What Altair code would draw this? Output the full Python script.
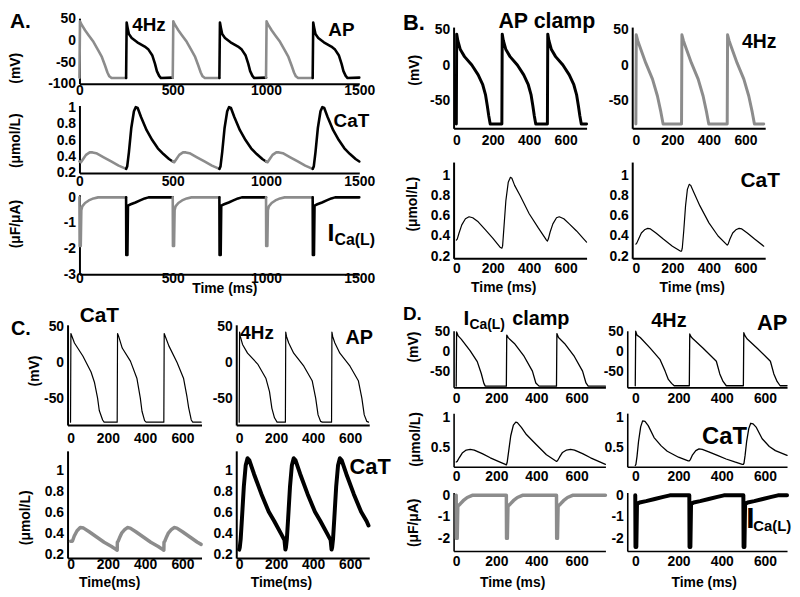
import altair as alt
import pandas as pd

FONT = "Liberation Sans"
GRAY = "#8c8c8c"
BLACK = "#000000"

# ================= A. 4 Hz pacing: gray = short/small beat, black = long/large beat =================
A_starts = [0, 250, 500, 750, 1000, 1250]
A_kind = ["short", "long", "short", "long", "short", "long"]
A_colors = [GRAY, BLACK, GRAY, BLACK, GRAY, BLACK]

A_AP_short_t = [0, 3, 10, 30, 50, 75, 100, 120, 137, 150, 160, 172, 250]
A_AP_short_v = [-86, 45, 38, 24, 12, -3, -22, -38, -58, -74, -83, -87, -87]
A_AP_long_t = [0, 3, 8, 15, 30, 60, 100, 120, 140, 155, 165, 177, 187, 250]
A_AP_long_v = [-87, 42, 30, 15, 6, -4, -14, -21, -34, -54, -71, -82, -87, -86]

A_CaT_short_t = [0, 8, 20, 35, 55, 70, 90, 130, 170, 210, 250]
A_CaT_short_v = [0.34, 0.33, 0.37, 0.42, 0.45, 0.45, 0.44, 0.39, 0.34, 0.29, 0.25]
A_CaT_long_t = [0, 6, 15, 28, 42, 52, 62, 80, 110, 140, 170, 200, 230, 250]
A_CaT_long_v = [0.25, 0.28, 0.45, 0.75, 0.95, 1.0, 0.99, 0.88, 0.72, 0.6, 0.5, 0.43, 0.37, 0.34]

A_ICa_short_t = [0, 1, 7, 10, 15, 30, 50, 75, 100, 250]
A_ICa_short_v = [0, -1.9, -1.9, -0.5, -0.35, -0.22, -0.12, -0.04, 0, 0]
A_ICa_long_t = [0, 1, 7, 10, 25, 50, 75, 100, 120, 250]
A_ICa_long_v = [0, -2.25, -2.25, -0.32, -0.27, -0.2, -0.12, -0.04, 0, 0]

# ================= B. AP clamp (left) vs 4 Hz (right) =================
B_starts = [0, 250, 500]
B_APclamp_t = [0, 2, 8, 22, 45, 85, 120, 145, 160, 170, 178, 186, 250]
B_APclamp_v = [-84, 44, 35, 22, 12, 0, -14, -28, -42, -58, -72, -84, -84]
B_APclamp_last_t = [0, 2, 8, 22, 45, 85, 120, 145, 160, 170, 178, 186, 215]
B_AP4_t = [0, 2, 10, 18, 54, 91, 118, 137, 149, 250]
B_AP4_v = [-84, 43, 35, 29, 3, -20, -44, -67, -84, -84]
B_AP4_last_t = [0, 2, 10, 18, 54, 91, 118, 137, 149, 200]

B_CaTc_1_t = [0, 5, 15, 30, 50, 70, 90, 120, 160, 200, 240, 250]
B_CaTc_1_v = [0.36, 0.37, 0.43, 0.51, 0.57, 0.59, 0.58, 0.54, 0.46, 0.38, 0.29, 0.28]
B_CaTc_2_t = [0, 4, 12, 22, 35, 47, 55, 70, 100, 150, 200, 245, 250]
B_CaTc_2_v = [0.28, 0.3, 0.5, 0.75, 0.93, 0.98, 0.97, 0.9, 0.8, 0.62, 0.48, 0.36, 0.35]
B_CaTc_3_t = [0, 5, 15, 30, 50, 65, 90, 120, 160, 200, 215]
B_CaTc_3_v = [0.35, 0.37, 0.44, 0.52, 0.58, 0.59, 0.57, 0.52, 0.45, 0.37, 0.34]

B_CaT4_1_t = [0, 5, 15, 30, 50, 65, 80, 110, 150, 200, 245, 250]
B_CaT4_1_v = [0.32, 0.33, 0.37, 0.43, 0.465, 0.475, 0.47, 0.43, 0.37, 0.3, 0.25, 0.25]
B_CaT4_2_t = [0, 4, 12, 22, 32, 42, 50, 65, 100, 150, 200, 250]
B_CaT4_2_v = [0.25, 0.28, 0.45, 0.7, 0.86, 0.91, 0.9, 0.84, 0.7, 0.53, 0.4, 0.31]
B_CaT4_3_t = [0, 5, 15, 30, 50, 65, 80, 110, 150, 200]
B_CaT4_3_v = [0.31, 0.32, 0.37, 0.43, 0.465, 0.475, 0.47, 0.43, 0.37, 0.3]

# ================= C. CaT clamp (left) vs 4 Hz (right) =================
C_starts = [0, 250, 500]
C_APc_1_t = [0, 2, 8, 21, 66, 110, 128, 145, 154, 172, 180, 250]
C_APc_1_v = [-82, 40, 36, 27, 9, -13, -27, -49, -66, -79, -82, -82]
C_APc_2_t = [0, 2, 8, 27, 71, 106, 124, 133, 147, 155, 250]
C_APc_2_v = [-82, 40, 36, 20, 2, -22, -49, -67, -80, -82, -82]
C_APc_3_t = [0, 2, 8, 27, 71, 106, 124, 133, 147, 155, 200]
C_APc_3_v = [-82, 40, 36, 23, 0, -22, -47, -62, -79, -82, -82]

C_AP4_1_t = [0, 2, 6, 18, 45, 100, 145, 164, 177, 191, 205, 250]
C_AP4_1_v = [-82, 42, 36, 25, 13, -2, -22, -40, -63, -76, -82, -82]
C_AP4_2_t = [0, 2, 6, 18, 45, 100, 145, 164, 177, 191, 200, 250]
C_AP4_2_v = [-82, 42, 36, 27, 13, -5, -25, -49, -72, -81, -82, -82]
C_AP4_3_t = [0, 2, 6, 18, 45, 100, 145, 164, 177, 191, 200]
C_AP4_3_v = [-82, 42, 36, 27, 13, -5, -25, -49, -72, -81, -82]

C_CaTc_1_t = [0, 10, 20, 35, 52, 70, 100, 140, 180, 220, 245, 250]
C_CaTc_1_v = [0.33, 0.33, 0.38, 0.43, 0.46, 0.455, 0.42, 0.37, 0.32, 0.28, 0.25, 0.245]
C_CaTc_2_t = [0, 1, 5, 12, 25, 40, 55, 70, 100, 140, 180, 220, 245, 250]
C_CaTc_2_v = [0.245, 0.32, 0.33, 0.36, 0.41, 0.44, 0.46, 0.455, 0.42, 0.37, 0.32, 0.28, 0.25, 0.245]
C_CaTc_3_t = [0, 1, 5, 12, 25, 40, 55, 70, 100, 140, 180, 200]
C_CaTc_3_v = [0.245, 0.32, 0.33, 0.36, 0.41, 0.44, 0.46, 0.455, 0.42, 0.37, 0.32, 0.3]

C_CaT4_t = [0, 3, 8, 15, 25, 35, 45, 55, 80, 120, 160, 190, 227, 245, 250]
C_CaT4_v = [0.25, 0.27, 0.35, 0.55, 0.85, 1.05, 1.12, 1.1, 0.97, 0.78, 0.61, 0.52, 0.4, 0.34, 0.25]
C_CaT4_3_t = [0, 3, 8, 15, 25, 35, 45, 55, 80, 120, 160, 190, 200]
C_CaT4_3_v = [0.25, 0.27, 0.35, 0.55, 0.85, 1.05, 1.12, 1.1, 0.97, 0.78, 0.61, 0.52, 0.48]

# ================= D. I_Ca(L) clamp (left) vs 4 Hz (right) =================
D_starts = [0, 250, 500]
D_APc_1_t = [0, 2, 10, 25, 70, 105, 125, 138, 145, 250]
D_APc_1_v = [-87, 50, 40, 32, 2, -25, -55, -80, -87, -87]
D_APc_2_t = [0, 2, 10, 40, 89, 130, 147, 163, 250]
D_APc_2_v = [-87, 42, 35, 21, -12, -49, -79, -87, -87]
D_APc_3_t = [0, 2, 10, 40, 89, 130, 147, 158, 244]
D_APc_3_v = [-87, 46, 36, 21, -12, -49, -79, -87, -87]

D_AP4_1_t = [0, 2, 8, 23, 69, 115, 138, 153, 168, 180, 250]
D_AP4_1_v = [-86, 52, 42, 36, 9, -20, -49, -70, -80, -86, -86]
D_AP4_2_t = [0, 2, 8, 18, 64, 125, 141, 156, 171, 250]
D_AP4_2_v = [-86, 45, 38, 32, 9, -24, -56, -75, -86, -86]
D_AP4_3_t = [0, 2, 8, 18, 64, 125, 141, 156, 170, 202]
D_AP4_3_v = [-86, 48, 40, 32, 9, -24, -56, -75, -86, -86]

D_CaTc_1_t = [0, 5, 15, 30, 50, 70, 90, 130, 170, 210, 245, 250]
D_CaTc_1_v = [0.26, 0.27, 0.33, 0.41, 0.46, 0.47, 0.46, 0.4, 0.33, 0.27, 0.22, 0.21]
D_CaTc_2_t = [0, 4, 12, 22, 35, 47, 55, 75, 100, 150, 200, 245, 250]
D_CaTc_2_v = [0.21, 0.25, 0.45, 0.7, 0.88, 0.93, 0.92, 0.84, 0.72, 0.55, 0.38, 0.28, 0.27]
D_CaTc_3_t = [0, 5, 15, 30, 50, 70, 90, 130, 170, 210, 244]
D_CaTc_3_v = [0.27, 0.28, 0.34, 0.42, 0.46, 0.47, 0.46, 0.4, 0.33, 0.27, 0.22]

D_CaT4_1_t = [0, 3, 8, 15, 25, 34, 45, 60, 87, 120, 148, 200, 245, 250]
D_CaT4_1_v = [0.2, 0.22, 0.35, 0.6, 0.85, 0.95, 0.94, 0.87, 0.67, 0.53, 0.44, 0.34, 0.28, 0.28]
D_CaT4_2_t = [0, 5, 15, 30, 45, 60, 90, 130, 170, 210, 245, 250]
D_CaT4_2_v = [0.28, 0.3, 0.38, 0.45, 0.48, 0.47, 0.43, 0.37, 0.31, 0.26, 0.22, 0.22]
D_CaT4_3_t = [0, 3, 8, 15, 25, 34, 45, 60, 87, 120, 148, 202]
D_CaT4_3_v = [0.22, 0.24, 0.37, 0.6, 0.82, 0.91, 0.9, 0.84, 0.65, 0.52, 0.45, 0.37]

D_ICac_t = [0, 1, 5, 8, 20, 35, 55, 80, 250]
D_ICac_v = [0, -2.0, -2.0, -0.5, -0.4, -0.25, -0.1, 0, 0]
D_ICac_last_t = [0, 1, 5, 8, 20, 35, 55, 80, 244]
D_ICa4_t = [0, 1, 5, 8, 20, 50, 90, 130, 160, 250]
D_ICa4_v = [0, -2.4, -2.4, -0.4, -0.33, -0.27, -0.17, -0.07, 0, 0]
D_ICa4_last_t = [0, 1, 5, 8, 20, 50, 90, 130, 160, 202]


# ---------------------------------------------------------------------------
def trace(beats, colors=None):
    rows = []
    for k, (start, ts, vs) in enumerate(beats):
        col = colors[k] if colors else BLACK
        for dt, v in zip(ts, vs):
            rows.append({"t": start + dt, "v": v, "seg": k, "c": col, "i": len(rows)})
    return pd.DataFrame(rows)


def txt(s, x, y, size, align="left"):
    return alt.Chart(pd.DataFrame({"k": [0]})).mark_text(
        text=s, font=FONT, fontWeight="bold", fontSize=size, align=align,
        baseline="alphabetic", color="black"
    ).encode(x=alt.value(x), y=alt.value(y))


def panel(df, w, h, xdom, ydom, xvals, yvals, sw, color=BLACK, split=False,
          xr=None, yr=None, yoff=0, ytitle=None, yt=(0, 0), xtitle=None, xt=(0, 0),
          xlp=0, dw=2, texts=()):
    xs = dict(domain=xdom, nice=False, zero=False)
    if xr:
        xs["range"] = xr
    ys = dict(domain=ydom, nice=False, zero=False)
    if yr:
        ys["range"] = yr
    xax = dict(values=xvals, labelPadding=xlp, domainWidth=dw, labelExpr="'' + datum.value")
    if xtitle:
        xax.update(titleX=xt[0], titleY=xt[1], titleAlign="center", titleBaseline="middle")
    yax = dict(values=yvals, labelPadding=4, offset=yoff, domainWidth=dw,
               labelExpr="'' + datum.value")
    if ytitle:
        yax.update(titleX=yt[0], titleY=yt[1], titleAngle=270, titleAlign="center",
                   titleBaseline="middle")
    X = alt.X("t:Q", scale=alt.Scale(**xs), axis=alt.Axis(**xax),
              title=xtitle if xtitle else None)
    Y = alt.Y("v:Q", scale=alt.Scale(**ys), axis=alt.Axis(**yax),
              title=ytitle if ytitle else None)
    df = df.assign(c=df["c"] if split else color)
    enc = dict(x=X, y=Y, order=alt.Order("i:Q"), color=alt.Color("c:N", scale=None))
    if split:
        enc["detail"] = alt.Detail("seg:N")
    line = alt.Chart(df).mark_line(strokeWidth=sw, strokeCap="round",
                                   strokeJoin="round").encode(**enc)
    return alt.layer(line, *texts).properties(width=w, height=h)


# ---------------- Panel A ----------------
A_AP = {"short": (A_AP_short_t, A_AP_short_v), "long": (A_AP_long_t, A_AP_long_v)}
A_CaT = {"short": (A_CaT_short_t, A_CaT_short_v), "long": (A_CaT_long_t, A_CaT_long_v)}
A_ICa = {"short": (A_ICa_short_t, A_ICa_short_v), "long": (A_ICa_long_t, A_ICa_long_v)}

dA1 = trace([(s,) + A_AP[k] for s, k in zip(A_starts, A_kind)], A_colors)
dA2 = trace([(s,) + A_CaT[k] for s, k in zip(A_starts, A_kind)], A_colors)
dA3 = trace([(s,) + A_ICa[k] for s, k in zip(A_starts, A_kind)], A_colors)

A_x = dict(xdom=[0, 1500], xvals=[0, 500, 1000, 1500], xr=[12, 294], yoff=-12)
A1 = panel(dA1, 294, 66, ydom=[-100, 52], yvals=[-100, -50, 0, 50], sw=2.6, split=True,
           ytitle="(mV)", yt=(-64, 50), xlp=0,
           texts=[txt("A.", -58, 10, 21), txt("4Hz", 82, 13, 19, "center"),
                  txt("AP", 276, 18, 19, "center")], **A_x)
A2 = panel(dA2, 294, 68, ydom=[0.2, 1.02], yvals=[0.2, 0.4, 0.6, 0.8, 1], sw=2.6, split=True,
           ytitle="(\u03bcmol/L)", yt=(-64, 35), xlp=2,
           texts=[txt("CaT", 286, 22, 19, "center")], **A_x)
A3 = panel(dA3, 294, 80, ydom=[-3, 0.1], yvals=[-3, -2, -1, 0], sw=2.6, split=True,
           ytitle="(\u03bcF/\u03bcA)", yt=(-64, 29), xtitle="Time (ms)", xt=(158, 14), xlp=-3,
           texts=[txt("I", 262, 47, 25), txt("Ca(L)", 269, 51, 16)], **A_x)
A = alt.vconcat(A1, A2, A3, spacing=22, bounds="flush")

# ---------------- Panel B ----------------
dB1 = trace([(0, B_APclamp_t, B_APclamp_v), (250, B_APclamp_t, B_APclamp_v),
             (500, B_APclamp_last_t, B_APclamp_v)])
dB3 = trace([(0, B_AP4_t, B_AP4_v), (250, B_AP4_t, B_AP4_v), (500, B_AP4_last_t, B_AP4_v)])
dB2 = trace([(0, B_CaTc_1_t, B_CaTc_1_v), (250, B_CaTc_2_t, B_CaTc_2_v),
             (500, B_CaTc_3_t, B_CaTc_3_v)])
dB4 = trace([(0, B_CaT4_1_t, B_CaT4_1_v), (250, B_CaT4_2_t, B_CaT4_2_v),
             (500, B_CaT4_3_t, B_CaT4_3_v)])

Bl = dict(xdom=[-15, 715], xvals=[0, 200, 400, 600])
Br = dict(xdom=[-20, 708], xvals=[0, 200, 400, 600])
B_ap = dict(ydom=[-90, 54], yvals=[-50, 0, 50], yr=[111, 9], xlp=5)
B_ca = dict(ydom=[0.18, 1.13], yvals=[0.2, 0.4, 0.6, 0.8, 1], xlp=3)
B1 = panel(dB1, 134, 111, sw=3, ytitle="(mV)", yt=(-39, 52),
           texts=[txt("B.", -51, 12, 22), txt("AP clamp", 94, 10, 21.5, "center")], **Bl, **B_ap)
B3 = panel(dB3, 134, 111, sw=3, color=GRAY,
           texts=[txt("4Hz", 128, 30, 19.5, "center")], **Br, **B_ap)
B2 = panel(dB2, 134, 97, sw=1.2, ytitle="(\u03bcmol/L)", yt=(-41, 42),
           xtitle="Time (ms)", xt=(50, 29), **Bl, **B_ca)
B4 = panel(dB4, 134, 97, sw=1.2, xtitle="Time (ms)", xt=(60, 29),
           texts=[txt("CaT", 129, 25, 21, "center")], **Br, **B_ca)
B = alt.concat(B1, B3, B2, B4, columns=2, spacing={"row": 34, "column": 46},
               bounds="flush", align="each")

# ---------------- Panel C ----------------
dC1 = trace([(0, C_APc_1_t, C_APc_1_v), (250, C_APc_2_t, C_APc_2_v), (500, C_APc_3_t, C_APc_3_v)])
dC3 = trace([(0, C_AP4_1_t, C_AP4_1_v), (250, C_AP4_2_t, C_AP4_2_v), (500, C_AP4_3_t, C_AP4_3_v)])
dC2 = trace([(0, C_CaTc_1_t, C_CaTc_1_v), (250, C_CaTc_2_t, C_CaTc_2_v),
             (500, C_CaTc_3_t, C_CaTc_3_v)])
dC4 = trace([(0, C_CaT4_t, C_CaT4_v), (250, C_CaT4_t, C_CaT4_v), (500, C_CaT4_3_t, C_CaT4_3_v)])

Cl = dict(xdom=[-16, 702], xvals=[0, 200, 400, 600])
Cr = dict(xdom=[-16, 704], xvals=[0, 200, 400, 600])
C_ap = dict(ydom=[-86, 52], yvals=[-50, 0, 50], xlp=7)
C_ca = dict(ydom=[0.17, 1.19], yvals=[0.2, 0.4, 0.6, 0.8, 1], xlp=0)
C1 = panel(dC1, 135, 101, sw=1.2, ytitle="(mV)", yt=(-33, 46),
           texts=[txt("C.", -57, 10, 20), txt("CaT", 32, -3, 21, "center")], **Cl, **C_ap)
C3 = panel(dC3, 134, 101, sw=1.2,
           texts=[txt("4Hz", 21, 14, 19, "center"), txt("AP", 124, 19, 20, "center")], **Cr, **C_ap)
C2 = panel(dC2, 135, 108, sw=3.5, color=GRAY, ytitle="(\u03bcmol/L)", yt=(-42, 67),
           xtitle="Time(ms)", xt=(42, 25), **Cl, **C_ca)
C4 = panel(dC4, 134, 108, sw=4, xtitle="Time(ms)", xt=(45, 25),
           texts=[txt("CaT", 135, 23, 22, "center")], **Cr, **C_ca)
C = alt.concat(C1, C3, C2, C4, columns=2, spacing={"row": 26, "column": 35},
               bounds="flush", align="each")

# ---------------- Panel D ----------------
dD1 = trace([(0, D_APc_1_t, D_APc_1_v), (250, D_APc_2_t, D_APc_2_v), (500, D_APc_3_t, D_APc_3_v)])
dD4 = trace([(0, D_AP4_1_t, D_AP4_1_v), (250, D_AP4_2_t, D_AP4_2_v), (500, D_AP4_3_t, D_AP4_3_v)])
dD2 = trace([(0, D_CaTc_1_t, D_CaTc_1_v), (250, D_CaTc_2_t, D_CaTc_2_v),
             (500, D_CaTc_3_t, D_CaTc_3_v)])
dD5 = trace([(0, D_CaT4_1_t, D_CaT4_1_v), (250, D_CaT4_2_t, D_CaT4_2_v),
             (500, D_CaT4_3_t, D_CaT4_3_v)])
dD3 = trace([(0, D_ICac_t, D_ICac_v), (250, D_ICac_t, D_ICac_v), (500, D_ICac_last_t, D_ICac_v)])
dD6 = trace([(0, D_ICa4_t, D_ICa4_v), (250, D_ICa4_t, D_ICa4_v), (500, D_ICa4_last_t, D_ICa4_v)])

Dl = dict(xdom=[-13, 744], xvals=[0, 200, 400, 600], dw=1.6)
Dr = dict(xdom=[-37, 702], xvals=[0, 200, 400, 600], dw=1.6)
D_ap = dict(ydom=[-90, 53], yvals=[-50, 0, 50], xlp=4)
D_ca = dict(ydom=[0.18, 1.08], yvals=[0.5, 1], xlp=3)
D_ic = dict(ydom=[-2.59, 0.13], yvals=[-2, -1, 0], xlp=4)
D1 = panel(dD1, 153, 57, sw=1.3, ytitle="(mV)", yt=(-40, 16),
           texts=[txt("D.", -51, -11, 19), txt("I", 10, -6, 21), txt("Ca(L)", 16, -2, 14),
                  txt("clamp", 59, -6, 20)], **Dl, **D_ap)
D4 = panel(dD4, 161, 57, sw=1.3,
           texts=[txt("4Hz", 42, -4, 20, "center"), txt("AP", 146, -1, 22, "center")], **Dr, **D_ap)
D2 = panel(dD2, 153, 54, sw=1.3, ytitle="(\u03bcmol/L)", yt=(-38, 26), **Dl, **D_ca)
D5 = panel(dD5, 161, 54, sw=1.3, texts=[txt("CaT", 98, 31, 24, "center")], **Dr, **D_ca)
D3 = panel(dD3, 153, 59, sw=3.5, color=GRAY, ytitle="(\u03bcF/\u03bcA)", yt=(-40, 30),
           xtitle="Time (ms)", xt=(59, 32), **Dl, **D_ic)
D6 = panel(dD6, 161, 59, sw=4, xtitle="Time (ms)", xt=(77, 32),
           texts=[txt("I", 120, 36, 30), txt("Ca(L)", 127, 39, 15)], **Dr, **D_ic)
D = alt.concat(D1, D4, D2, D5, D3, D6, columns=2, spacing={"row": 26, "column": 22},
               bounds="flush", align="each")

# ---------------- assemble ----------------
left = alt.vconcat(A, C, spacing=8)
right = alt.vconcat(B, D, spacing=9)
chart = alt.hconcat(left, right, spacing=10).properties(
    padding={"left": 0, "top": 0, "right": 0, "bottom": 0}, background="white"
).configure_axis(
    labelFont=FONT, labelFontSize=14, labelFontWeight="bold", labelColor="black",
    titleFont=FONT, titleFontSize=14, titleFontWeight="bold", titleColor="black",
    domainColor="black", ticks=False, tickSize=0, grid=False,
    labelFlush=False, labelOverlap=False
).configure_view(stroke="transparent")

chart.save("out.html", embed_options={"renderer": "svg", "actions": False})
